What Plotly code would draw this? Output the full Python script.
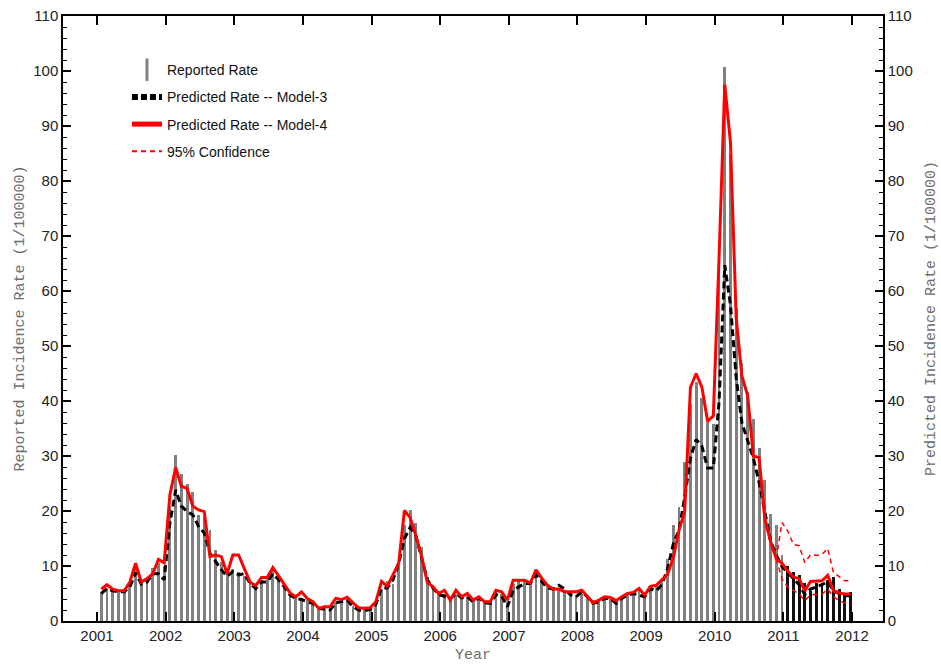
import plotly.graph_objects as go

# Monthly incidence per 100000, Jan 2001 .. Dec 2011
reported = [
    5.2, 6.0, 5.5, 5.3, 5.3, 6.5, 9.8, 7.2, 7.8, 9.6, 10.5, 10.0,          # 2001
    21.0, 30.2, 26.8, 25.0, 23.5, 19.3, 19.0, 16.5, 12.9, 10.8, 8.7, 9.4,  # 2002
    9.0, 8.1, 7.1, 6.2, 7.5, 8.1, 9.4, 7.5, 6.1, 4.7, 4.1, 4.1,            # 2003
    3.8, 3.2, 2.0, 2.3, 2.0, 3.5, 3.8, 4.1, 2.7, 2.2, 2.1, 2.3,            # 2004
    3.0, 5.6, 7.2, 6.8, 10.0, 17.5, 20.2, 17.8, 13.5, 8.0, 6.5, 5.5,       # 2005
    5.0, 4.3, 5.0, 4.5, 4.5, 4.0, 4.5, 3.6, 3.5, 5.2, 5.0, 3.5,            # 2006
    6.8, 7.2, 7.4, 7.0, 8.9, 7.8, 6.5, 6.2, 5.9, 5.6, 5.3, 4.5,            # 2007
    5.0, 4.4, 3.8, 3.8, 4.4, 4.4, 3.8, 4.4, 5.0, 5.3, 5.6, 4.7,            # 2008
    6.2, 6.4, 7.7, 11.3, 17.5, 20.8, 28.9, 39.5, 43.5, 40.6, 36.2, 35.8,   # 2009
    65.0, 100.8, 85.0, 57.0, 47.0, 41.6, 36.7, 31.5, 25.6, 19.5, 17.5, 12.0,  # 2010
    10.0, 9.0, 8.3, 7.0, 5.5, 7.0, 7.0, 7.5, 8.0, 5.8, 5.0, 5.3,           # 2011
]

model3 = [
    5.0, 5.9, 5.5, 5.3, 5.3, 6.2, 8.8, 6.7, 7.1, 8.6, 8.6, 7.5,
    17.8, 23.8, 20.9, 19.9, 19.3, 17.2, 16.0, 12.3, 10.8, 9.3, 8.1, 9.0,
    8.4, 8.6, 6.9, 5.9, 7.1, 7.1, 8.6, 7.5, 6.2, 4.7, 4.1, 3.9,
    3.5, 3.2, 2.3, 2.1, 2.0, 3.3, 3.5, 3.8, 2.6, 2.0, 1.9, 2.1,
    3.0, 6.0, 6.0, 7.5, 10.5, 15.0, 17.0, 15.5, 11.5, 7.5, 6.0, 4.8,
    4.5, 4.0, 5.0, 4.2, 4.4, 3.5, 4.2, 3.3, 3.2, 4.8, 4.5, 2.6,
    5.6, 6.2, 6.8, 6.8, 8.4, 7.2, 6.0, 5.8, 6.5, 5.8, 4.8, 4.4,
    5.3, 4.4, 3.2, 3.5, 4.1, 4.1, 3.2, 4.1, 4.7, 5.0, 4.7, 4.4,
    5.9, 5.5, 6.6, 9.5, 14.0, 16.5, 22.5, 29.6, 33.0, 31.8, 27.8, 27.8,
    39.8, 64.7, 57.4, 44.2, 36.0, 33.0, 29.6, 25.2, 20.0, 14.6, 12.0, 9.9,
    8.8, 7.7, 6.6, 4.8, 5.8, 6.2, 6.6, 7.2, 5.5, 5.0, 4.6, 4.6,
]

model4 = [
    5.8, 6.6, 5.8, 5.5, 5.5, 7.1, 10.5, 7.1, 7.7, 8.6, 11.2, 10.6,
    22.9, 27.9, 24.5, 24.1, 20.9, 20.2, 19.9, 11.7, 12.0, 11.7, 8.6, 12.0,
    12.0, 9.6, 7.1, 6.4, 7.9, 7.9, 9.7, 8.2, 6.7, 5.1, 4.4, 5.3,
    4.1, 3.5, 2.3, 2.6, 2.6, 4.1, 3.9, 4.3, 3.3, 2.4, 2.3, 2.4,
    3.5, 7.2, 6.3, 8.4, 10.5, 20.1, 18.8, 15.5, 11.8, 7.0, 6.2, 5.0,
    5.6, 3.8, 5.6, 4.4, 5.0, 3.8, 4.4, 3.5, 3.5, 5.6, 5.3, 3.8,
    7.4, 7.4, 7.4, 6.9, 9.3, 7.8, 6.5, 5.8, 5.8, 5.3, 5.3, 5.3,
    5.6, 4.4, 3.3, 3.8, 4.4, 4.3, 3.7, 4.4, 5.0, 5.2, 5.9, 4.7,
    6.3, 6.5, 7.5, 8.5, 11.5, 16.5, 20.0, 42.5, 45.0, 42.5, 36.3, 37.3,
    66.0, 97.5, 87.0, 55.0, 44.5, 41.0, 30.0, 29.7, 18.6, 14.5, 11.3, 10.5,
    9.1, 8.0, 7.7, 5.5, 7.2, 7.2, 7.3, 8.3, 5.5, 5.1, 4.9, 4.9,
]

# 95% band of Model-4, Nov 2010 .. Dec 2011
ci_upper = [11.3, 17.9, 16.4, 13.9, 13.7, 10.6, 12.1, 11.9, 12.1, 13.2, 8.8, 8.0, 7.3, 7.3]
ci_lower = [11.3, 7.7, 6.2, 5.5, 4.9, 3.7, 4.8, 4.8, 4.9, 5.8, 4.4, 3.7, 3.3, 3.1]
ci_start = 118      # month index where the band begins
forecast_start = 120  # Jan 2011, drawn with black bars

year_ticks = list(range(2001, 2013))

# decimal-year position of each monthly bar
months = [2001 + (i + 0.75) / 12 for i in range(len(reported))]

GRAY = '#808080'
TICK_FONT = dict(family='Liberation Sans, Arial, sans-serif', size=15, color='#222222')
TITLE_FONT = dict(family='Liberation Mono, Courier New, monospace', size=15, color='#6e6e6e')

fig = go.Figure()

fig.add_trace(go.Bar(
    x=months[:forecast_start], y=reported[:forecast_start],
    width=0.042, marker=dict(color=GRAY, line=dict(width=0)),
    showlegend=False, hoverinfo='skip'))
fig.add_trace(go.Bar(
    x=months[forecast_start:], y=reported[forecast_start:],
    width=0.042, marker=dict(color='#111111', line=dict(width=0)),
    showlegend=False, hoverinfo='skip'))

fig.add_trace(go.Scatter(
    x=months, y=model3, mode='lines', yaxis='y2',
    line=dict(color='black', width=3, dash='7px,4px'), showlegend=False))
fig.add_trace(go.Scatter(
    x=months, y=model4, mode='lines', yaxis='y2',
    line=dict(color='#ff0000', width=3), showlegend=False))
for band in (ci_upper, ci_lower):
    fig.add_trace(go.Scatter(
        x=months[ci_start:], y=band, mode='lines', yaxis='y2',
        line=dict(color='#ff0000', width=1.5, dash='5px,4px'), showlegend=False))

# legend entries (styled like the original key)
fig.add_trace(go.Scatter(
    x=[None], y=[None], mode='markers', name='Reported Rate', legendgroup='a',
    marker=dict(symbol='line-ns', size=20, line=dict(color=GRAY, width=3))))
fig.add_trace(go.Scatter(
    x=[None], y=[None], mode='lines', name='Predicted Rate -- Model-3', legendgroup='b',
    line=dict(color='black', width=6, dash='6px,3px')))
fig.add_trace(go.Scatter(
    x=[None], y=[None], mode='lines', name='Predicted Rate -- Model-4', legendgroup='c',
    line=dict(color='#ff0000', width=5)))
fig.add_trace(go.Scatter(
    x=[None], y=[None], mode='lines', name='95% Confidence', legendgroup='d',
    line=dict(color='#ff0000', width=2, dash='5px,4px')))

y_common = dict(
    range=[0, 110], dtick=10, ticks='inside', ticklen=8, tickwidth=1.5, tickcolor='black',
    minor=dict(dtick=2, ticks='inside', ticklen=4, tickwidth=1, tickcolor='black', showgrid=False),
    showline=True, linecolor='black', linewidth=1.5, showgrid=False, zeroline=False,
    tickfont=TICK_FONT, automargin=False,
)

fig.update_layout(
    width=941, height=664, autosize=False,
    margin=dict(l=63, r=58, t=16, b=43),
    plot_bgcolor='white', paper_bgcolor='white',
    barmode='overlay', bargap=0,
    xaxis=dict(
        range=[2000.505, 2012.451], tickvals=year_ticks, ticktext=[str(y) for y in year_ticks],
        ticks='inside', ticklen=9, tickwidth=1.5, tickcolor='black',
        showline=True, linecolor='black', linewidth=1.5, mirror='ticks',
        showgrid=False, zeroline=False, tickfont=TICK_FONT, automargin=False,
        title=dict(text='Year', font=TITLE_FONT, standoff=8),
    ),
    yaxis=dict(title=dict(text='Reported Incidence Rate (1/100000)', font=TITLE_FONT, standoff=5),
               **y_common),
    yaxis2=dict(title=dict(text='Predicted Incidence Rate (1/100000)', font=TITLE_FONT, standoff=13),
                overlaying='y', side='right', **y_common),
    legend=dict(
        x=0.078, y=0.937, xanchor='left', yanchor='top',
        bgcolor='rgba(0,0,0,0)', traceorder='grouped', tracegroupgap=6,
        font=dict(family='Liberation Sans, Arial, sans-serif', size=14, color='#111111'),
    ),
    hovermode=False,
)

# the page's default 8px body margin would push the fixed-size figure off the window
fig.write_html('out.html', config={'displayModeBar': False},
               post_script="document.body.style.margin='0';")
